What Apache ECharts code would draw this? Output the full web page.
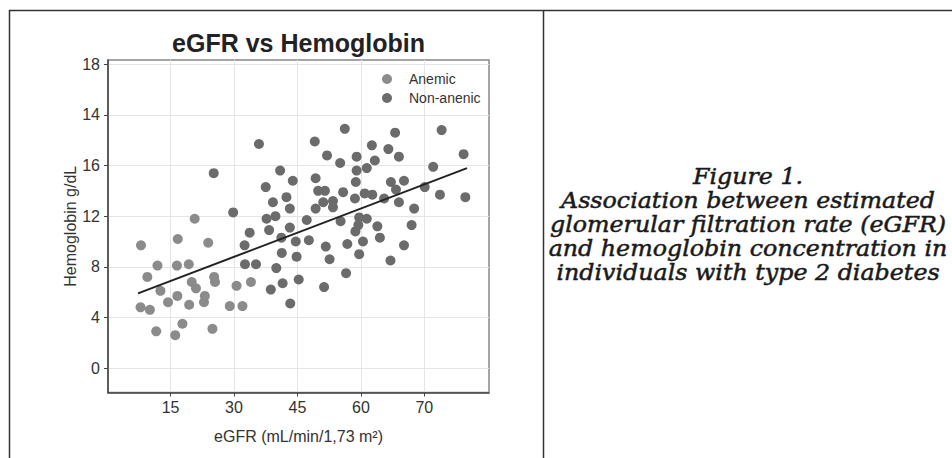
<!DOCTYPE html>
<html><head><meta charset="utf-8">
<script src="https://cdn.jsdelivr.net/npm/echarts@6/dist/echarts.min.js"></script>
<style>html,body{margin:0;padding:0;background:#fff}#c{width:952px;height:458px}</style>
</head><body><div id="c"></div>
<script>
// Anemic group (eGFR, hemoglobin)
const anemicEgfr = [20.7,30.6,34.0,29.0,32.0,8.0,16.7,23.9,11.9,16.5,19.3,9.5,20.0,21.0,25.3,25.5,12.6,16.6,23.1,22.9,14.4,19.4,7.9,10.1,17.8,11.6,16.1,24.9];
const anemicHb   = [11.8,6.5,6.8,4.9,4.9,9.7,10.2,9.9,8.1,8.1,8.2,7.2,6.8,6.3,7.2,6.8,6.1,5.7,5.7,5.2,5.2,5.0,4.8,4.6,3.5,2.9,2.6,3.1];
// Non-anemic group
const nonAnemicEgfr = [25.2,29.8,35.9,49.1,56.2,52.0,59.0,55.1,62.6,40.9,43.9,49.3,59.0,61.4,37.5,49.9,51.5,55.8,58.8,60.9,42.4,39.2,51.1,53.4,58.6,43.2,49.3,53.4,39.8,37.7,47.2,55.2,59.6,61.4,38.3,43.2,59.4,58.7,33.7,68.1,79.1,66.5,69.0,63.3,84.3,77.1,67.1,70.2,68.3,75.1,62.7,65.5,69.0,78.7,84.7,72.6,63.9,72.0,64.5,70.2,67.0,32.5,41.2,44.6,47.7,56.8,60.5,41.3,44.8,51.7,59.6,32.6,35.2,40.0,52.6,41.5,38.7,45.3,51.3,56.5,43.3];
const nonAnemicHb   = [15.4,12.3,17.7,17.9,18.9,16.8,16.7,16.2,17.6,15.6,14.8,15.0,15.6,15.8,14.3,14.0,14.0,13.9,14.7,13.8,13.5,13.1,13.1,13.2,13.4,12.6,12.6,12.7,12.0,11.8,11.7,11.6,11.9,11.8,10.9,11.1,11.3,10.8,10.7,18.6,18.8,17.3,16.7,16.4,16.9,15.9,14.7,14.8,14.1,14.3,13.7,13.4,13.1,13.7,13.5,12.6,11.2,11.3,10.3,9.7,8.5,9.7,10.3,10.0,10.1,9.8,10.0,9.1,8.8,9.6,9.0,8.2,8.2,7.9,8.6,6.7,6.2,7.0,6.4,7.5,5.1];
// Fitted regression line end points
const fitEgfr = [7.3, 85.1];
const fitHb   = [5.9, 15.8];
// Axis ticks and their printed labels
const xTickValues = [15,30,45,60,75];
const xTickLabels = ['15','30','45','60','70'];
const yTickValues = [0,4,8,12,16,20,24];
const yTickLabels = ['0','4','8','12','16','14','18'];
const seriesNames = ['Anemic','Non-anenic'];
const chartTitle = 'eGFR vs Hemoglobin';
const xName = 'eGFR (mL/min/1,73 m²)';
const yName = 'Hemoglobin g/dL';
const captionLines = ['Figure 1.','Association between estimated','glomerular filtration rate (eGFR)','and hemoglobin concentration in','individuals with type 2 diabetes'];

const zip = (a,b) => a.map((v,i)=>[v,b[i]]);
const FONT = 'Liberation Sans, Arial, sans-serif';
const chart = echarts.init(document.getElementById('c'), null, {renderer:'svg'});

const graphics = [
  {type:'line', shape:{x1:9,y1:10.5,x2:952,y2:10.5}, style:{stroke:'#333',lineWidth:1.5}},
  {type:'line', shape:{x1:9.5,y1:10,x2:9.5,y2:458}, style:{stroke:'#333',lineWidth:1.5}},
  {type:'line', shape:{x1:543.5,y1:10,x2:543.5,y2:458}, style:{stroke:'#333',lineWidth:1.5}},
  {type:'text', x:298.5, y:43, style:{text:chartTitle, textAlign:'center', textVerticalAlign:'middle', font:'bold 25px Liberation Sans, Arial, sans-serif', fill:'#222'}}
];
captionLines.forEach((t,i)=>{
  graphics.push({type:'text', x:748, y:176 + i*24.2, scaleX:1.08, style:{text:t, textAlign:'center', textVerticalAlign:'middle', font:'italic 22px DejaVu Serif, serif', fill:'#1a1a1a', stroke:'#1a1a1a', lineWidth:0.5}});
});

chart.setOption({
  animation:false,
  backgroundColor:'#fff',
  textStyle:{fontFamily:FONT},
  grid:{left:108, right:463, top:60, bottom:65.5, show:true, borderColor:'#888', borderWidth:1.5, containLabel:false},
  legend:{
    data:seriesNames, orient:'vertical', left:377, top:67, icon:'circle',
    itemWidth:34, itemHeight:10, itemGap:5,
    textStyle:{fontSize:14, color:'#333', fontFamily:FONT, lineHeight:14}
  },
  xAxis:{
    type:'value', min:0.2, max:90.3,
    name:xName, nameLocation:'middle', nameGap:36,
    nameTextStyle:{fontSize:16, color:'#333', fontFamily:FONT},
    axisLine:{show:true, onZero:false, lineStyle:{color:'#444', width:1.5}},
    axisTick:{show:true, customValues:xTickValues, length:4, lineStyle:{color:'#444'}},
    axisLabel:{customValues:xTickValues, formatter:v=>xTickLabels[xTickValues.indexOf(v)], fontSize:16, color:'#333', margin:7, fontFamily:FONT},
    splitLine:{show:true, lineStyle:{color:'#e5e5e5', width:1}}
  },
  yAxis:{
    type:'value', min:-1.93, max:24.34,
    name:yName, nameLocation:'middle', nameGap:30,
    nameTextStyle:{fontSize:16, color:'#333', fontFamily:FONT},
    axisLine:{show:true, onZero:false, lineStyle:{color:'#444', width:1.5}},
    axisTick:{show:true, customValues:yTickValues, length:4, lineStyle:{color:'#444'}},
    axisLabel:{customValues:yTickValues, formatter:v=>yTickLabels[yTickValues.indexOf(v)], fontSize:16, color:'#333', margin:8, fontFamily:FONT},
    splitLine:{show:true, lineStyle:{color:'#e5e5e5', width:1}}
  },
  series:[
    {name:seriesNames[0], type:'scatter', data:zip(anemicEgfr, anemicHb), symbolSize:10, itemStyle:{color:'#8b8b8b', opacity:1}},
    {name:seriesNames[1], type:'scatter', data:zip(nonAnemicEgfr, nonAnemicHb), symbolSize:10, itemStyle:{color:'#6b6b6b', opacity:1}},
    {name:'fit', type:'line', data:zip(fitEgfr, fitHb), symbol:'none', lineStyle:{color:'#222', width:2}, z:5}
  ],
  graphic:graphics
});
</script></body></html>
